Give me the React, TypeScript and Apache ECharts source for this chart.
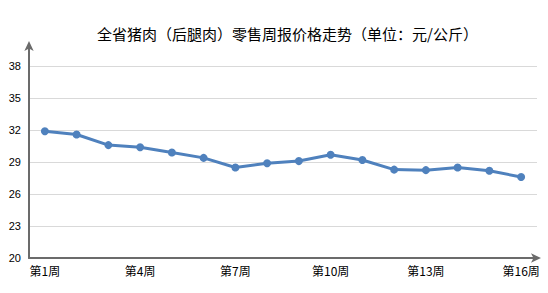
import React, { useEffect, useRef } from "react";
import * as echarts from "echarts";

const title = "全省猪肉（后腿肉）零售周报价格走势（单位：元/公斤）";
const weeks = ["第1周","第2周","第3周","第4周","第5周","第6周","第7周","第8周","第9周","第10周","第11周","第12周","第13周","第14周","第15周","第16周"];
const prices = [31.9, 31.6, 30.6, 30.4, 29.9, 29.4, 28.5, 28.9, 29.1, 29.7, 29.2, 28.3, 28.25, 28.5, 28.2, 27.6];
const yMin = 20;
const yMax = 40;
const yStep = 3;

export default function App() {
  const ref = useRef<HTMLDivElement>(null);
  useEffect(() => {
    if (!ref.current) return;
    const chart = echarts.init(ref.current, null, { renderer: "svg" });
    chart.setOption({
      animation: false,
      title: {
        text: title,
        left: 92,
        top: 21,
        textStyle: { fontSize: 15, fontWeight: "normal", color: "#000", fontFamily: "Noto Sans CJK SC" },
      },
      grid: { left: 29, right: 11, top: 45, bottom: 35 },
      xAxis: {
        type: "category",
        data: weeks,
        boundaryGap: true,
        axisLine: { lineStyle: { color: "#6b6b6b", width: 2 }, symbol: ["none", "arrow"], symbolSize: [7, 10], symbolOffset: [0, 4] },
        axisTick: { show: false },
        axisLabel: { interval: 2, color: "#000", fontSize: 12, fontFamily: "Noto Sans CJK SC", margin: 6 },
        splitLine: { show: false },
      },
      yAxis: {
        type: "value",
        min: yMin,
        max: yMax,
        interval: yStep,
        axisLine: { show: true, lineStyle: { color: "#6b6b6b", width: 2 }, symbol: ["none", "arrow"], symbolSize: [7, 10], symbolOffset: [0, 4] },
        axisTick: { show: false },
        axisLabel: { color: "#000", fontSize: 11, fontFamily: "Liberation Sans", margin: 8, showMaxLabel: false },
        splitLine: { show: true, showMaxLine: false, showMinLine: false, lineStyle: { color: "#D9D9D9", width: 1 } },
      },
      series: [
        {
          type: "line",
          data: prices,
          symbol: "circle",
          symbolSize: 8,
          lineStyle: { color: "#4F81BD", width: 3 },
          itemStyle: { color: "#4F81BD" },
        },
      ],
    });
    return () => chart.dispose();
  }, []);
  return <div ref={ref} style={{ width: 548, height: 293, position: "absolute", left: 0, top: 0 }} />;
}
